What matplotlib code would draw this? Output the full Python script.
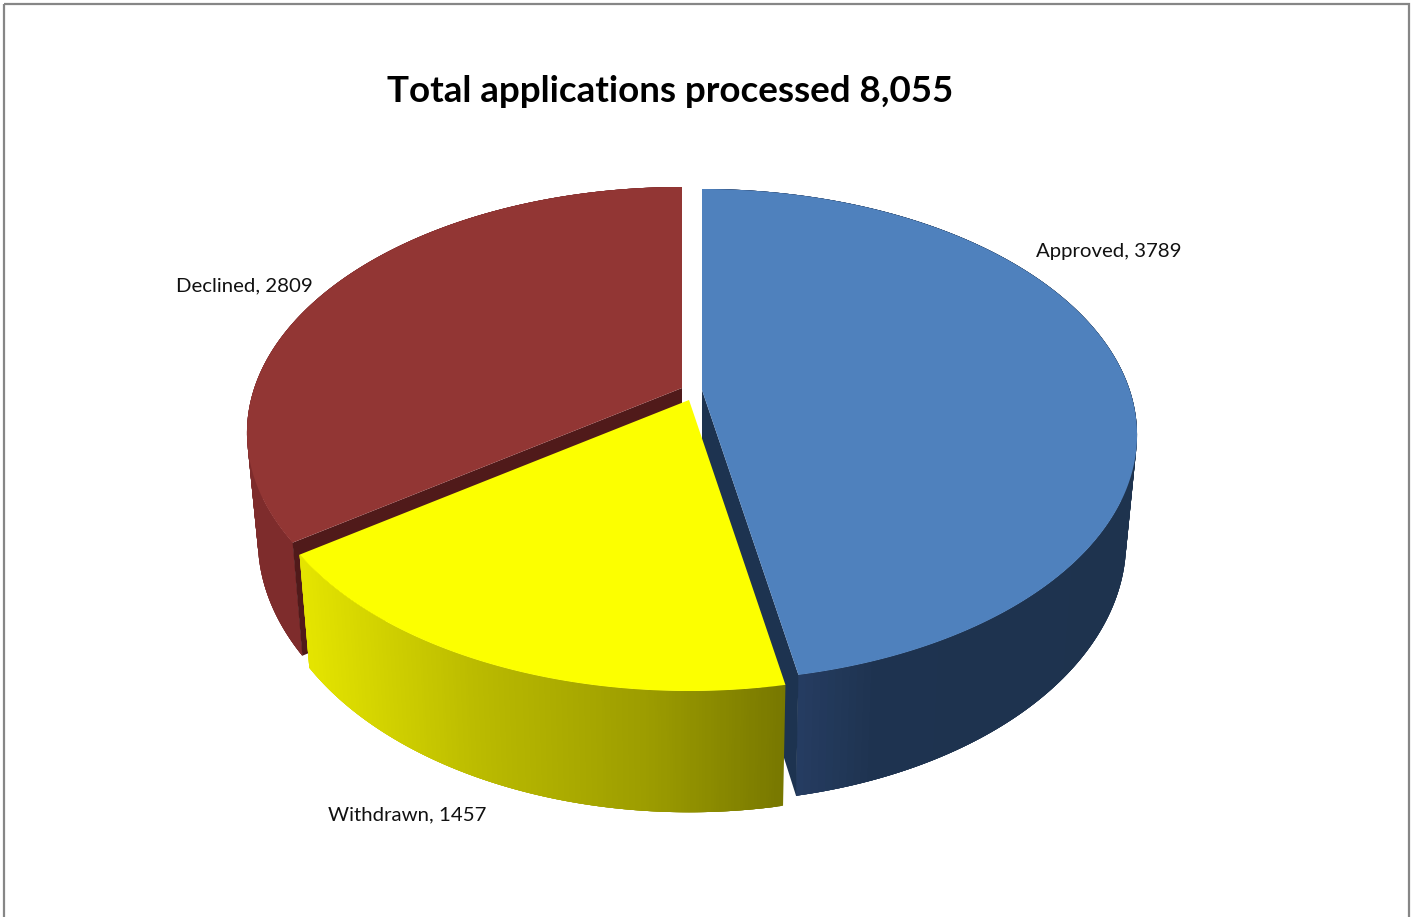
import numpy as np
import matplotlib
matplotlib.use("Agg")
import matplotlib.pyplot as plt
from matplotlib.patches import Polygon, Rectangle

categories = ["Approved", "Withdrawn", "Declined"]
values = [3789, 1457, 2809]
title = "Total applications processed 8,055"

FONT = ["Lato", "DejaVu Sans"]

# Layout (pixels)
centres = [(702, 435), (689, 445), (682, 433)]
label_pos = [(1108.5, 250), (407.5, 813), (244.5, 284)]
top_cols = ["#4f81bd", "#fcff00", "#923634"]
inner_cols = ["#1d3350", None, "#501a1a"]
A, B, C = 427.7, 246.0, 45.0
K = C / B
SX, SY, DROP, APEX_DEPTH = 0.975, 1.06, 106.5, 110.0


def top_xy(t, cx, cy):
    u, v = np.sin(t), np.cos(t)
    w = 1 + K * v
    return cx + A * u / w, cy - (C + B * v) / w


def bottom_xy(t, cx, cy):
    u, v = np.sin(t), np.cos(t)
    w = 1 + K * v
    return cx + SX * A * u / w, cy + DROP - SY * (C + B * v) / w


def side_colour(i, x):
    if i == 0:
        return (np.interp(x, [800, 880, 1140], [0x26, 0x1e, 0x1e]) / 255,
                np.interp(x, [800, 880, 1140], [0x3d, 0x33, 0x33]) / 255,
                np.interp(x, [800, 880, 1140], [0x62, 0x50, 0x4e]) / 255)
    if i == 1:
        c = np.interp(x, [305, 480, 650, 785], [0xe4, 0xba, 0x9c, 0x78]) / 255
        return (c, c, 0.0)
    return (0x7e / 255, 0x2c / 255, 0x2c / 255)


fig = plt.figure(figsize=(14.16, 9.17), dpi=100, facecolor="white")
ax = fig.add_axes([0, 0, 1, 1])
ax.set_xlim(0, 1416)
ax.set_ylim(917, 0)
ax.axis("off")

ax.add_patch(Rectangle((4, 4), 1405, 960, fill=False, ec="#868686", lw=1.6, zorder=1))

fractions = np.array(values, dtype=float) / np.sum(values)
edges = np.concatenate([[0], np.cumsum(fractions)]) * 2 * np.pi
spans = [(edges[i], edges[i + 1]) for i in range(len(values))]

# Walls and cut faces: back to front (red, blue, yellow); overlap hides seams
OVER = 4
for i in [2, 0, 1]:
    t0, t1 = spans[i]
    cx, cy = centres[i]
    ts = np.linspace(t0, t1, 200)
    tx, ty = top_xy(ts, cx, cy)
    bx, by = bottom_xy(ts, cx, cy)
    order = range(len(ts) - 1) if i != 2 else range(len(ts) - 2, -1, -1)
    for j in order:
        lo, hi = j, min(j + OVER, len(ts) - 1)
        if i == 2:
            lo, hi = max(j + 1 - OVER, 0), j + 1
        col = side_colour(i, tx[j])
        pts = list(zip(tx[lo:hi + 1], ty[lo:hi + 1])) + \
            list(zip(bx[lo:hi + 1][::-1], by[lo:hi + 1][::-1]))
        ax.add_patch(Polygon(pts, closed=True, fc=col, ec="none", lw=0, zorder=2))
    if inner_cols[i]:
        end = t1 if i == 0 else t0
        ex, ey = top_xy(end, cx, cy)
        fx, fy = bottom_xy(end, cx, cy)
        ax.add_patch(Polygon([(cx, cy - C), (ex, ey), (fx, fy), (cx, cy - C + APEX_DEPTH)],
                             closed=True, fc=inner_cols[i], ec="none", lw=0, zorder=2))

# Top faces, yellow last
for i in [2, 0, 1]:
    t0, t1 = spans[i]
    cx, cy = centres[i]
    ts = np.linspace(t0, t1, 400)
    tx, ty = top_xy(ts, cx, cy)
    pts = [(cx, cy - C)] + list(zip(tx, ty))
    ax.add_patch(Polygon(pts, closed=True, fc=top_cols[i], ec="none", lw=0, zorder=3))

for name, val, (x, y) in zip(categories, values, label_pos):
    ax.text(x, y, f"{name}, {val}", ha="center", va="center_baseline", fontsize=14.7,
            family=FONT, color="#111111", zorder=6)

ax.text(670.5, 88, title, ha="center", va="center_baseline", fontsize=26.5, fontweight="bold",
        family=FONT, color="black", zorder=6)

fig.savefig("out.png", dpi=100, facecolor="white")
